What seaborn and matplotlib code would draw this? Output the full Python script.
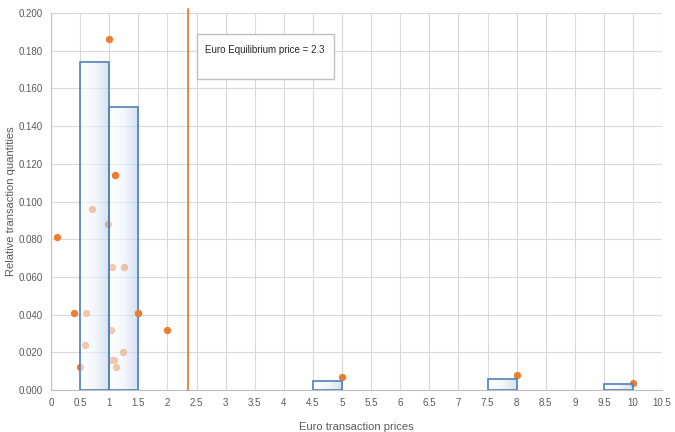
import numpy as np
import pandas as pd
import matplotlib
matplotlib.use("Agg")
import matplotlib.pyplot as plt
from matplotlib.patches import Rectangle
import seaborn as sns

# Histogram bins (left edge, width, relative quantity)
bin_left = [0.5, 1.0, 4.5, 7.5, 9.5]
bin_width = [0.5, 0.5, 0.5, 0.5, 0.5]
bin_height = [0.174, 0.150, 0.005, 0.0057, 0.0033]

# Individual transactions (price, relative quantity)
prices = [0.1, 0.4, 0.5, 0.58, 0.6, 0.7, 0.98, 1.0, 1.03, 1.05, 1.05, 1.08,
          1.1, 1.12, 1.24, 1.25, 1.5, 2.0, 5.0, 8.0, 10.0]
quantities = [0.081, 0.041, 0.012, 0.024, 0.041, 0.096, 0.088, 0.186, 0.032, 0.065, 0.016, 0.016,
              0.114, 0.012, 0.020, 0.065, 0.041, 0.032, 0.007, 0.008, 0.0036]

equilibrium = 2.35
eq_label = "Euro Equilibrium price = 2.3"

x_ticks = np.arange(0, 10.51, 0.5)
y_ticks = np.arange(0, 0.2001, 0.02)

sns.set_style("white")
plt.rcParams['font.family'] = ['Liberation Sans', 'DejaVu Sans']

fig = plt.figure(figsize=(6.75, 4.32), dpi=100)
ax = fig.add_axes([0.0756, 0.0972, 0.9054, 0.8727])

orange = "#ed7d31"
blue_edge = "#4f81bd"
grey_text = "#595959"

df = pd.DataFrame({"price": prices, "quantity": quantities})
sns.scatterplot(data=df, x="price", y="quantity", color=orange, s=28,
                edgecolor=orange, linewidth=0, ax=ax, zorder=3)
# a few transactions show in front of the bars in the original
front = df[(df["quantity"] == 0.114) | (df["price"] == 1.5)]
sns.scatterplot(data=front, x="price", y="quantity", color=orange, s=28,
                linewidth=0, ax=ax, zorder=9, legend=False)

# bars with a left-to-right gradient, drawn over the points
grad = np.linspace(0, 1, 64).reshape(1, -1)
cmap = matplotlib.colors.LinearSegmentedColormap.from_list(
    "g", ["#ffffff", "#ecf3fa", "#b3cde9"])
bars = ax.bar(bin_left, bin_height, width=bin_width, align="edge",
              facecolor="none", edgecolor=blue_edge, linewidth=1.2, zorder=5)
for b in bars:
    x0, y0 = b.get_x(), b.get_y()
    w, h = b.get_width(), b.get_height()
    im = ax.imshow(grad, extent=[x0, x0 + w, y0, y0 + h], aspect="auto",
                   cmap=cmap, alpha=0.6, zorder=4, origin="lower")
    im.set_clip_path(b)

ax.axvline(equilibrium, ymin=0, ymax=1.01, color=orange, linewidth=1.3,
           clip_on=False, zorder=6)

# label box
ax.add_patch(Rectangle((2.51, 0.165), 2.35, 0.024, facecolor="white",
                       edgecolor="#bfbfbf", linewidth=1.0, zorder=7))
ax.text(2.65, 0.1805, eq_label, fontsize=7, color="#262626",
        va="center", ha="left", zorder=8)

ax.set_xlim(0, 10.5)
ax.set_ylim(0, 0.2)
ax.set_xticks(x_ticks)
ax.set_xticklabels([f"{t:g}" for t in x_ticks])
ax.set_yticks(y_ticks)
ax.set_yticklabels([f"{t:.3f}" for t in y_ticks])
ax.grid(True, color="#d9d9d9", linewidth=0.8)
ax.set_axisbelow(True)
ax.tick_params(axis="both", labelsize=7, colors=grey_text, length=0, pad=6)
for side in ["top", "right"]:
    ax.spines[side].set_visible(False)
for side in ["left", "bottom"]:
    ax.spines[side].set_color("#bfbfbf")
    ax.spines[side].set_linewidth(0.8)

ax.set_xlabel("Euro transaction prices", fontsize=8, color=grey_text, labelpad=10)
ax.set_ylabel("Relative transaction quantities", fontsize=8, color=grey_text, labelpad=2)

fig.savefig("out.png", dpi=100)
